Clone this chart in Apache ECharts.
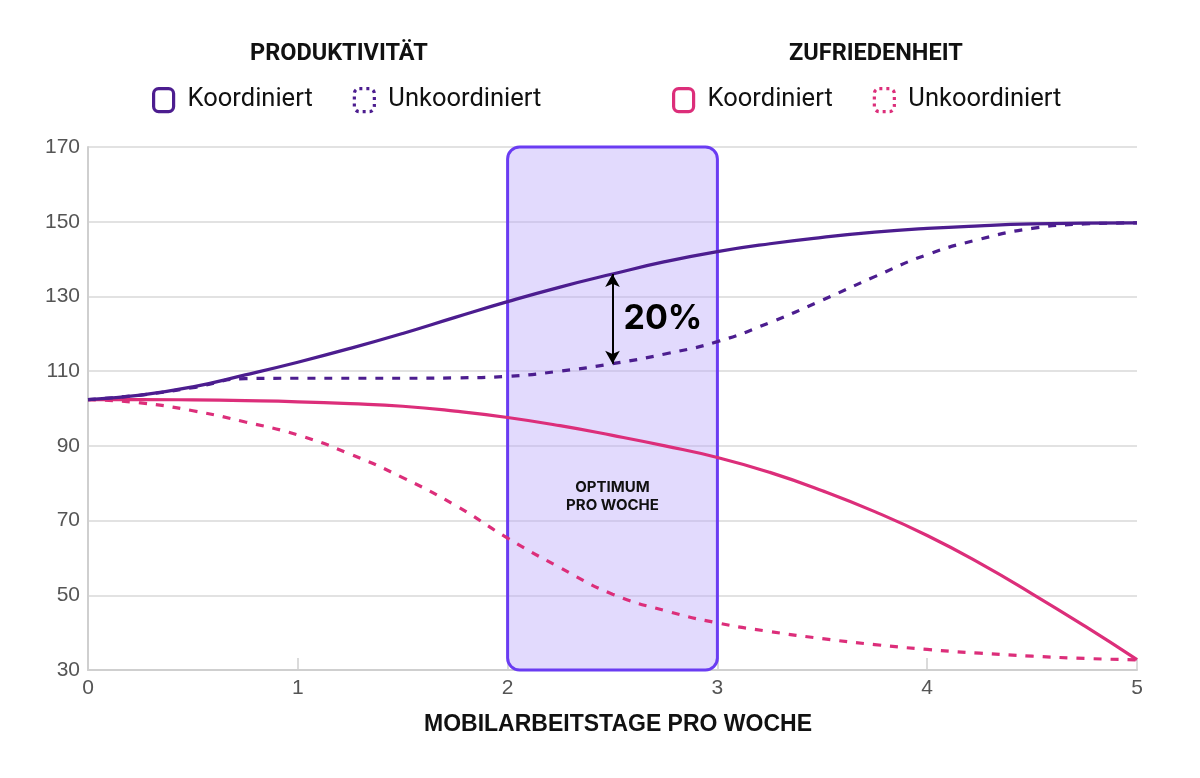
<!DOCTYPE html>
<html>
<head>
<meta charset="utf-8">
<script src="https://cdn.jsdelivr.net/npm/echarts@6/dist/echarts.min.js"></script>
<style>
  html, body { margin: 0; padding: 0; background: #ffffff; }
  #chart { width: 1200px; height: 778px; }
</style>
</head>
<body>
<div id="chart"></div>
<script>
// ---- data ----
const days = [0, 0.25, 0.5, 0.75, 1, 1.25, 1.5, 1.75, 2, 2.25, 2.5, 2.75, 3, 3.25, 3.5, 3.75, 4, 4.25, 4.5, 4.75, 5];

const prodKoordiniert   = [102.4, 103.6, 105.8, 109.0, 112.4, 116.1, 120.1, 124.4, 128.6, 132.5, 136.0, 139.3, 142.0, 144.1, 145.8, 147.2, 148.2, 148.9, 149.4, 149.6, 149.7];
const prodUnkoordiniert = [102.4, 103.6, 105.6, 108.0, 108.1, 108.1, 108.1, 108.2, 108.6, 110.0, 112.0, 114.6, 117.9, 123.0, 129.0, 135.3, 141.2, 145.3, 148.2, 149.4, 149.7];
const zufrKoordiniert   = [102.4, 102.4, 102.3, 102.1, 101.8, 101.3, 100.6, 99.3, 97.6, 95.4, 92.8, 90.0, 86.9, 82.9, 78.0, 72.4, 66.0, 58.6, 50.4, 41.8, 32.8];
const zufrUnkoordiniert = [102.4, 101.5, 99.4, 96.4, 92.9, 87.8, 81.5, 74.1, 65.3, 57.4, 50.3, 45.9, 42.6, 40.3, 38.4, 36.8, 35.5, 34.5, 33.7, 33.1, 32.7];

const yTicks = [30, 50, 70, 90, 110, 130, 150, 170];
const xTicks = [0, 1, 2, 3, 4, 5];

const groupTitles = ['PRODUKTIVITÄT', 'ZUFRIEDENHEIT'];
const seriesNames = ['Produktivität|Koordiniert', 'Produktivität|Unkoordiniert', 'Zufriedenheit|Koordiniert', 'Zufriedenheit|Unkoordiniert'];

const optimumBand = [[2, 170, 3, 30]];      // x from, y top, x to, y bottom
const optimumLabel = 'OPTIMUM\nPRO WOCHE';
const optimumLabelY = 76.5;
const gapArrow = { x: 2.5, from: 136, to: 112, label: '20%' };

// ---- styling ----
const PURPLE = '#4c1d8f';
const PINK = '#dc2e7a';
const pair = (arr) => days.map((d, i) => [d, arr[i]]);

function lineSeries(name, arr, color, dashed, extra) {
  return Object.assign({
    name: name,
    type: 'line',
    data: pair(arr),
    smooth: 0.5,
    showSymbol: false,
    symbol: 'none',
    z: 4,
    lineStyle: { color: color, width: 3.2, type: dashed ? [8, 9] : 'solid' },
    itemStyle: { color: color }
  }, extra || {});
}

const legendText = { fontFamily: 'Roboto', fontSize: 25.5, color: '#111', padding: [0, 0, 0, 9] };
function legendItem(name, color, dotted) {
  return {
    name: name,
    icon: 'roundRect',
    itemStyle: { color: '#ffffff', borderColor: color, borderWidth: 3.2, borderType: dotted ? [3, 4] : 'solid' }
  };
}

const chart = echarts.init(document.getElementById('chart'), null, { renderer: 'canvas' });

chart.setOption({
  backgroundColor: '#ffffff',
  animation: false,
  title: [
    { text: groupTitles[0], left: 245, top: 37, textStyle: { fontFamily: 'Roboto', fontWeight: 'bold', fontSize: 23.5, color: '#111' } },
    { text: groupTitles[1], left: 784, top: 37, textStyle: { fontFamily: 'Roboto', fontWeight: 'bold', fontSize: 23.5, color: '#111' } }
  ],
  legend: [
    {
      left: 152, top: 87, padding: 0, itemWidth: 20, itemHeight: 23, itemGap: 40,
      data: [legendItem(seriesNames[0], PURPLE, false), legendItem(seriesNames[1], PURPLE, true)],
      textStyle: legendText,
      formatter: (n) => n.split('|')[1],
      selectedMode: false
    },
    {
      left: 672, top: 87, padding: 0, itemWidth: 20, itemHeight: 23, itemGap: 40,
      data: [legendItem(seriesNames[2], PINK, false), legendItem(seriesNames[3], PINK, true)],
      textStyle: legendText,
      formatter: (n) => n.split('|')[1],
      selectedMode: false
    }
  ],
  grid: { left: 88, right: 63, top: 147, bottom: 108, containLabel: false },
  xAxis: {
    type: 'value', min: xTicks[0], max: xTicks[xTicks.length - 1], interval: 1,
    name: 'MOBILARBEITSTAGE PRO WOCHE', nameLocation: 'middle', nameGap: 43,
    nameTextStyle: { fontFamily: 'Liberation Sans', fontWeight: 'bold', fontSize: 23, color: '#111', padding: [0, 0, 0, 11] },
    axisLine: { show: true, lineStyle: { color: '#cfcfcf', width: 2 } },
    axisTick: { show: true, inside: true, length: 12, lineStyle: { color: '#cfcfcf', width: 1.5 } },
    axisLabel: { color: '#555', fontSize: 21, margin: 8, fontFamily: 'Liberation Sans' },
    splitLine: { show: false }
  },
  yAxis: {
    type: 'value', min: yTicks[0], max: yTicks[yTicks.length - 1], interval: 20,
    axisLine: { show: true, lineStyle: { color: '#cfcfcf', width: 2 } },
    axisTick: { show: false },
    axisLabel: { color: '#555', fontSize: 21, margin: 8, fontFamily: 'Liberation Sans' },
    splitLine: { show: true, lineStyle: { color: '#d9d9d9', width: 1.5 } }
  },
  series: [
    {
      type: 'custom',
      name: 'optimum',
      z: 1,
      silent: true,
      clip: false,
      data: optimumBand,
      renderItem: function (params, api) {
        const p1 = api.coord([api.value(0), api.value(1)]);
        const p2 = api.coord([api.value(2), api.value(3)]);
        const labelPos = api.coord([(api.value(0) + api.value(2)) / 2, optimumLabelY]);
        return {
          type: 'group',
          children: [
            {
              type: 'rect',
              shape: { x: p1[0], y: p1[1], width: p2[0] - p1[0], height: p2[1] - p1[1], r: 12 },
              style: { fill: 'rgba(186,168,250,0.42)', stroke: '#6a3cf2', lineWidth: 3 }
            },
            {
              type: 'text', x: labelPos[0], y: labelPos[1],
              style: { text: optimumLabel, fill: '#111', font: 'bold 15px Inter', align: 'center', verticalAlign: 'middle', lineHeight: 18 }
            }
          ]
        };
      }
    },
    lineSeries(seriesNames[3], zufrUnkoordiniert, PINK, true),
    lineSeries(seriesNames[2], zufrKoordiniert, PINK, false),
    lineSeries(seriesNames[1], prodUnkoordiniert, PURPLE, true),
    lineSeries(seriesNames[0], prodKoordiniert, PURPLE, false, {
      markLine: {
        silent: true,
        symbol: ['arrow', 'arrow'],
        symbolSize: [11, 13],
        lineStyle: { color: '#000', width: 2, type: 'solid' },
        label: { show: false },
        emphasis: { disabled: true },
        data: [[{ coord: [gapArrow.x, gapArrow.from] }, { coord: [gapArrow.x, gapArrow.to] }]]
      }
    }),
    {
      type: 'custom',
      name: 'gapLabel',
      z: 6,
      silent: true,
      data: [[gapArrow.x, (gapArrow.from + gapArrow.to) / 2]],
      renderItem: function (params, api) {
        const p = api.coord([api.value(0), api.value(1)]);
        return {
          type: 'text', x: p[0] + 11, y: p[1],
          style: { text: gapArrow.label, fill: '#000', font: 'bold 34px Inter', align: 'left', verticalAlign: 'middle' }
        };
      }
    }
  ]
});
</script>
</body>
</html>
